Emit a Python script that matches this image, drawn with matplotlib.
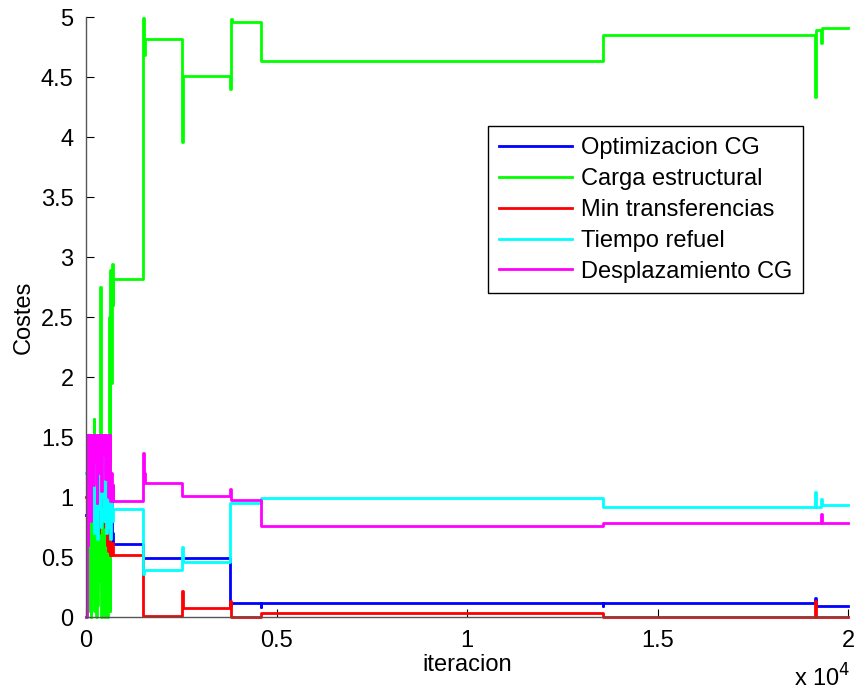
import matplotlib
matplotlib.use("Agg")
import matplotlib.pyplot as plt
import numpy as np

plt.rcParams['font.family'] = ['Liberation Sans', 'DejaVu Sans']

# iteration grid of the noisy start phase
early_x = list(range(0, 720, 20))

# Optimizacion CG
blue_early = [0.85, 1.0, 0.7, 0.95, 1.05, 0.8, 0.65, 0.9, 1.0, 0.75, 0.95, 0.85,
              1.05, 0.7, 0.9, 1.0, 0.8, 0.62, 0.95, 1.0, 0.85, 0.7, 1.02, 0.9,
              0.75, 0.65, 0.9, 1.0, 0.8, 0.62, 0.7, 0.85, 0.62, 0.95, 0.7, 0.62]
blue_x = [720, 1500, 3790, 3800, 4580, 4600, 13560, 13580, 19130, 19150, 20000]
blue_y = [0.61, 0.49, 0.09, 0.115, 0.08, 0.12, 0.09, 0.12, 0.16, 0.094, 0.094]

# Carga estructural
green_early = [0.0, 0.55, 0.05, 0.8, 0.1, 0.7, 0.0, 0.85, 0.15, 0.6, 1.65, 0.05,
               0.9, 0.0, 0.75, 0.1, 0.85, 0.3, 2.75, 2.44, 0.0, 0.9, 0.1, 0.7,
               0.0, 0.85, 0.2, 0.6, 0.0, 0.8, 2.5, 0.05, 2.89, 1.95, 2.94, 2.6]
green_x = [720, 1500, 1520, 1540, 2520, 2540, 3780, 3800, 3820, 4590, 13560,
           19130, 19150, 19290, 19310, 20000]
green_y = [2.82, 4.99, 4.68, 4.82, 3.96, 4.51, 4.40, 4.98, 4.96, 4.63, 4.85,
           4.33, 4.89, 4.78, 4.91, 4.91]

# Min transferencias
red_early = [1.0, 1.2, 0.9, 1.35, 1.1, 1.4, 0.95, 1.3, 1.42, 1.1, 0.85, 1.25,
             1.4, 0.95, 1.2, 1.35, 0.7, 1.15, 1.4, 1.0, 0.8, 1.3, 1.1, 0.9,
             1.25, 0.75, 1.05, 0.6, 0.9, 0.55, 0.64, 0.52, 0.6, 0.52, 0.62, 0.52]
red_x = [720, 1500, 2520, 2540, 3780, 3800, 4590, 13560, 19130, 19150, 20000]
red_y = [0.52, 0.01, 0.22, 0.075, 0.13, 0.0, 0.035, 0.003, 0.13, 0.003, 0.003]

# Tiempo refuel
cyan_early = [1.2, 1.0, 1.3, 0.9, 1.15, 1.4, 1.0, 0.8, 1.25, 1.1, 0.7, 1.0,
              1.35, 0.85, 1.2, 0.65, 1.05, 1.3, 0.9, 0.75, 1.1, 1.42, 1.0, 0.8,
              1.2, 0.95, 0.7, 1.1, 0.85, 1.0, 0.75, 0.9, 0.65, 0.95, 0.8, 0.9]
cyan_x = [720, 1500, 1520, 2520, 2540, 3780, 4590, 13560, 19130, 19150, 19290, 19310, 20000]
cyan_y = [0.9, 0.36, 0.39, 0.58, 0.46, 0.95, 0.99, 0.92, 1.04, 0.92, 0.98, 0.93, 0.93]

# Desplazamiento CG
magenta_early = [0.0, 1.52, 0.6, 1.52, 1.0, 1.52, 0.8, 1.45, 1.52, 1.1, 1.52, 1.3,
                 1.52, 1.52, 0.95, 1.4, 1.52, 1.2, 1.52, 1.52, 1.05, 1.52, 1.35, 1.52,
                 1.52, 1.15, 1.52, 1.52, 1.52, 1.0, 1.3, 1.52, 0.97, 1.2, 0.97, 1.1]
magenta_x = [720, 1500, 1520, 1540, 2520, 3780, 3800, 4590, 13560, 19290, 19310, 20000]
magenta_y = [0.97, 1.37, 1.2, 1.12, 1.01, 1.07, 0.975, 0.76, 0.785, 0.86, 0.785, 0.785]

labels = ["Optimizacion CG", "Carga estructural", "Min transferencias",
          "Tiempo refuel", "Desplazamiento CG"]
colors = ["#0000ff", "#00ff00", "#ff0000", "#00ffff", "#ff00ff"]

series = [
    (blue_early, blue_x, blue_y),
    (green_early, green_x, green_y),
    (red_early, red_x, red_y),
    (cyan_early, cyan_x, cyan_y),
    (magenta_early, magenta_x, magenta_y),
]

fig = plt.figure(figsize=(8.56, 6.95), dpi=100)
ax = fig.add_axes([0.1005, 0.1122, 0.8902, 0.8633])

for (early, xs, ys), c, lab in zip(series, colors, labels):
    x = np.array(early_x + xs)
    y = np.array(early + ys)
    ax.plot(x, y, drawstyle="steps-post", color=c, lw=2, label=lab, clip_on=False)

ax.set_xlim(0, 20000)
ax.set_ylim(0, 5)
ax.set_xticks([0, 5000, 10000, 15000, 20000])
ax.set_xticklabels(["0", "0.5", "1", "1.5", "2"])
ax.set_yticks(np.arange(0, 5.01, 0.5))
ax.set_yticklabels(["0", "0.5", "1", "1.5", "2", "2.5", "3", "3.5", "4", "4.5", "5"])
ax.tick_params(direction="in", labelsize=17, length=6, width=0.8, pad=9)
for s in ["top", "right"]:
    ax.spines[s].set_visible(False)
for s in ["left", "bottom"]:
    ax.spines[s].set_color("#555555")
    ax.spines[s].set_linewidth(1)

ax.set_xlabel("iteracion", fontsize=17, labelpad=2)
ax.set_ylabel("Costes", fontsize=17, labelpad=4)
fig.text(0.928, 0.005, r"x 10$^{4}$", fontsize=17, ha="left", va="bottom")

leg = ax.legend(loc="upper right", bbox_to_anchor=(0.941, 0.818), fontsize=17,
                frameon=True, fancybox=False, edgecolor="black", framealpha=1,
                handlelength=3.1, handletextpad=0.4, labelspacing=0.38,
                borderpad=0.45, borderaxespad=0)
leg.get_frame().set_linewidth(1)

fig.savefig("out.png", dpi=100)
